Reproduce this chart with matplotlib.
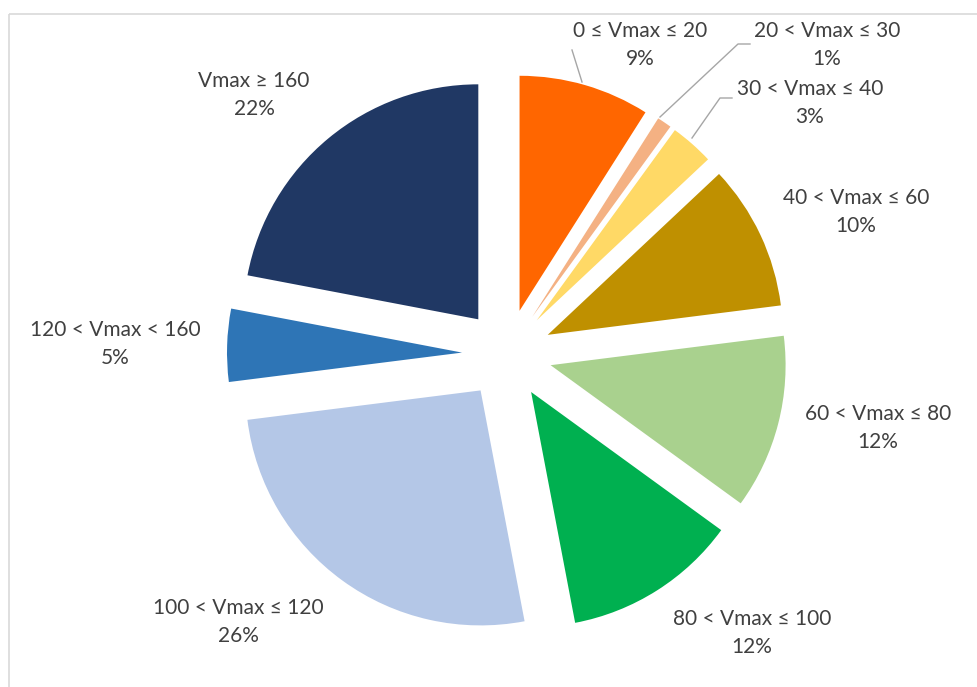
import matplotlib.pyplot as plt
from matplotlib.patches import Rectangle

# data
labels = ['0 ≤ Vmax ≤ 20', '20 < Vmax ≤ 30', '30 < Vmax ≤ 40', '40 < Vmax ≤ 60',
          '60 < Vmax ≤ 80', '80 < Vmax ≤ 100', '100 < Vmax ≤ 120',
          '120 < Vmax < 160', 'Vmax ≥ 160']
shares = [9, 1, 3, 10, 12, 12, 26, 5, 22]
colors = ['#FF6600', '#F4B183', '#FFD966', '#BF9000', '#A9D18E',
          '#00B050', '#B4C7E7', '#2E75B6', '#203864']

# layout (pixel coords of the figure)
W, H = 978, 687
center = (507, 354)
radius = 235
explode_px = 45
label_xy = [(640, 45), (827, 45), (810, 103), (856, 212), (878, 428),
            (752, 633), (238, 622), (115, 344), (254, 95)]
leaders = {0: [(582, 82), (572, 50)],
           1: [(660, 117), (738, 44), (750, 44)],
           2: [(692, 138), (720, 98), (732, 98)]}

plt.rcParams['font.family'] = ['Lato', 'DejaVu Sans']

fig = plt.figure(figsize=(W / 100, H / 100), dpi=100)
ax = fig.add_axes([0, 0, 1, 1])

# y axis points down, so startangle -90 is 12 o'clock and
# counterclock=True runs clockwise on screen
ax.pie(shares, colors=colors, startangle=-90, counterclock=True,
       explode=[explode_px] * len(shares), center=center, radius=radius,
       wedgeprops=dict(linewidth=0), frame=True)
ax.set_xlim(0, W)
ax.set_ylim(H, 0)
ax.set_aspect('equal')
ax.axis('off')

# chart border (only left and top visible in the crop)
ax.add_patch(Rectangle((8.5, 13.5), W + 20, H + 20, fill=False,
                       edgecolor='#D9D9D9', linewidth=1.2, clip_on=False))

for i, (lab, s) in enumerate(zip(labels, shares)):
    x, y = label_xy[i]
    ax.text(x, y, '{}\n{}%'.format(lab, s), ha='center', va='center',
            fontsize=15, color='#404040', linespacing=1.55)

for i, pts in leaders.items():
    xs = [p[0] for p in pts]
    ys = [p[1] for p in pts]
    ax.plot(xs, ys, color='#A6A6A6', linewidth=1)

fig.savefig('out.png', dpi=100)
